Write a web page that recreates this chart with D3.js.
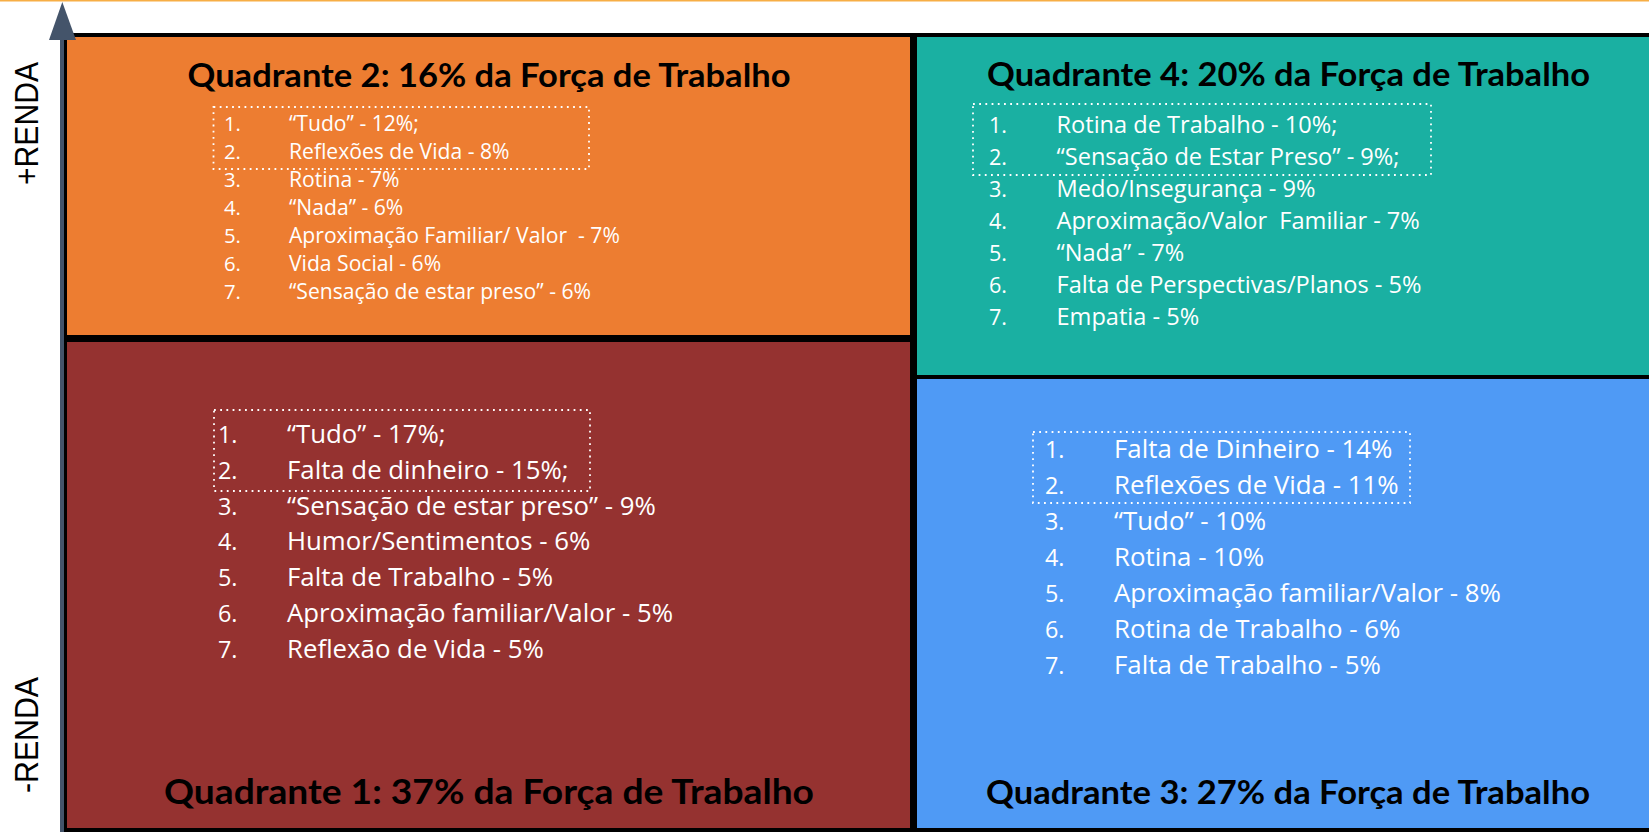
<!DOCTYPE html>
<html>
<head>
<meta charset="utf-8">
<script src="https://cdn.jsdelivr.net/npm/d3@7"></script>
<style>
  html, body { margin: 0; padding: 0; background: #fff; }
  svg { display: block; }
  text { white-space: pre; }
</style>
</head>
<body>
<div id="chart"></div>
<script>
// Quadrant view: "o que mudou" by income level, with share of the workforce.
var quadrantNames = ["Quadrante 1", "Quadrante 2", "Quadrante 3", "Quadrante 4"];
var workforceShare = [37, 16, 27, 20];
var axisLabels = ["+RENDA", "-RENDA"];

var q1Labels = ["“Tudo”", "Falta de dinheiro", "“Sensação de estar preso”", "Humor/Sentimentos",
  "Falta de Trabalho", "Aproximação familiar/Valor", "Reflexão de Vida"];
var q1Values = [17, 15, 9, 6, 5, 5, 5];

var q2Labels = ["“Tudo”", "Reflexões de Vida", "Rotina", "“Nada”",
  "Aproximação Familiar/ Valor ", "Vida Social", "“Sensação de estar preso”"];
var q2Values = [12, 8, 7, 6, 7, 6, 6];

var q3Labels = ["Falta de Dinheiro", "Reflexões de Vida", "“Tudo”", "Rotina",
  "Aproximação familiar/Valor", "Rotina de Trabalho", "Falta de Trabalho"];
var q3Values = [14, 11, 10, 10, 8, 6, 5];

var q4Labels = ["Rotina de Trabalho", "“Sensação de Estar Preso”", "Medo/Insegurança", "Aproximação/Valor  Familiar",
  "“Nada”", "Falta de Perspectivas/Planos", "Empatia"];
var q4Values = [10, 9, 9, 7, 7, 5, 5];

// how many leading items end with ";" and how many sit in the dotted box
var semicolonCount = [2, 1, 0, 2];
var boxedCount = 2;

(function () {
  "use strict";

  var W = 1649, H = 832;
  var colors = ["#953230", "#ED7D31", "#4F9AF5", "#1AB0A2"];
  var axisColor = "#44546A";

  // frame edges: left column / right column, and where each column splits
  var colX = d3.scaleOrdinal().domain(["left", "mid", "right"]).range([67, 913.5, W + 4]);
  var rowSplit = { left: 338.5, right: 377 };
  var frameTop = 37, frameBottom = 828;

  var layout = [
    { col: "left", row: "bottom", numX: 218, textX: 287, base: 443, step: 35.8, size: 26, fit: [5, 386],
      box: [214, 410, 590, 491], title: { x: 164, y: 804, size: 34, width: 650 } },
    { col: "left", row: "top", numX: 224, textX: 289, base: 131, step: 28, size: 22.6, fit: [6, 302],
      box: [213.5, 107, 589, 169], title: { x: 187.5, y: 87, size: 32, width: 603 } },
    { col: "right", row: "bottom", numX: 1045, textX: 1114, base: 458, step: 36, size: 26, fit: [4, 387],
      box: [1033, 432, 1410, 503], title: { x: 986, y: 804, size: 32, width: 604 } },
    { col: "right", row: "top", numX: 989, textX: 1056.5, base: 133, step: 32, size: 24, fit: [5, 365],
      box: [973, 104, 1431, 175], title: { x: 987, y: 86, size: 32, width: 603 } }
  ];

  var labels = [q1Labels, q2Labels, q3Labels, q4Labels];
  var values = [q1Values, q2Values, q3Values, q4Values];

  var svg = d3.select("#chart").append("svg")
    .attr("width", W)
    .attr("height", H)
    .attr("viewBox", [0, 0, W, H]);

  // thin orange rule at the very top
  svg.append("rect").attr("x", 0).attr("y", 0).attr("width", W).attr("height", 1.5).attr("fill", "#F7AE45");

  // black frame behind the cells
  svg.append("rect")
    .attr("x", 63).attr("y", 33)
    .attr("width", W - 63 + 4).attr("height", H - 33 + 4)
    .attr("fill", "#000");

  function cellRect(q) {
    var L = layout[q];
    var x0 = L.col === "left" ? colX("left") : colX("mid") + 3.5;
    var x1 = L.col === "left" ? colX("mid") - 3.5 : colX("right");
    var split = rowSplit[L.col];
    var gap = L.col === "left" ? 3.5 : 2;
    var y0 = L.row === "top" ? frameTop : split + gap;
    var y1 = L.row === "top" ? split - gap : frameBottom;
    return { x: x0, y: y0, w: x1 - x0, h: y1 - y0 };
  }

  svg.append("g").selectAll("rect")
    .data(d3.range(4))
    .join("rect")
    .each(function (q) {
      var r = cellRect(q);
      d3.select(this).attr("x", r.x).attr("y", r.y).attr("width", r.w).attr("height", r.h);
    })
    .attr("fill", function (q) { return colors[q]; });

  // vertical axis with arrow head
  svg.append("rect").attr("x", 60).attr("y", 38).attr("width", 4).attr("height", H - 38).attr("fill", axisColor);
  svg.append("path")
    .attr("d", d3.line()([[62.3, 2], [49, 40], [76, 40]]) + "Z")
    .attr("fill", axisColor);

  var axisFont = "'Liberation Sans', Arial, sans-serif";
  svg.append("text")
    .attr("transform", "translate(38,185) rotate(-90)")
    .attr("font-family", axisFont).attr("font-size", 33)
    .attr("textLength", 123).attr("lengthAdjust", "spacingAndGlyphs")
    .attr("fill", "#000")
    .text(axisLabels[0]);
  svg.append("text")
    .attr("transform", "translate(38,793) rotate(-90)")
    .attr("font-family", axisFont).attr("font-size", 33)
    .attr("textLength", 116).attr("lengthAdjust", "spacingAndGlyphs")
    .attr("fill", "#000")
    .text(axisLabels[1]);

  var listFont = "'Open Sans', 'Noto Sans', sans-serif";

  d3.range(4).forEach(function (q) {
    var L = layout[q];
    var g = svg.append("g");

    g.append("text")
      .attr("x", L.title.x).attr("y", L.title.y)
      .attr("font-family", "Lato, sans-serif").attr("font-weight", 700)
      .attr("font-size", L.title.size)
      .attr("textLength", L.title.width).attr("lengthAdjust", "spacingAndGlyphs")
      .attr("fill", "#000")
      .text(quadrantNames[q] + ": " + workforceShare[q] + "% da Força de Trabalho");

    var y = d3.scaleLinear().domain([0, 6]).range([L.base, L.base + 6 * L.step]);
    var items = labels[q].map(function (lab, i) {
      return {
        i: i,
        text: lab + " - " + values[q][i] + "%" + (i < semicolonCount[q] ? ";" : "")
      };
    });

    g.selectAll("text.num")
      .data(items)
      .join("text")
      .attr("class", "num")
      .attr("x", L.numX).attr("y", function (d) { return y(d.i); })
      .attr("font-family", listFont).attr("font-size", L.size * 0.9)
      .attr("fill", "#fff")
      .text(function (d) { return (d.i + 1) + "."; });

    var lines = g.selectAll("text.item")
      .data(items)
      .join("text")
      .attr("class", "item")
      .attr("x", L.textX).attr("y", function (d) { return y(d.i); })
      .attr("font-family", listFont).attr("font-size", L.size)
      .attr("fill", "#fff")
      .text(function (d) { return d.text; });

    // squeeze the list so its widest line lands where the reference puts it
    var natural = lines.filter(function (d) { return d.i === L.fit[0]; }).node().getComputedTextLength();
    var k = L.fit[1] / natural;
    lines.each(function () {
      var len = this.getComputedTextLength();
      d3.select(this).attr("textLength", len * k).attr("lengthAdjust", "spacingAndGlyphs");
    });

    // dotted frame around the top items
    g.append("rect")
      .attr("x", L.box[0]).attr("y", L.box[1])
      .attr("width", L.box[2] - L.box[0]).attr("height", L.box[3] - L.box[1])
      .attr("fill", "none")
      .attr("stroke", "#fff").attr("stroke-width", 1.8)
      .attr("stroke-dasharray", "1.8,4.4");
  });
})();
</script>
</body>
</html>
